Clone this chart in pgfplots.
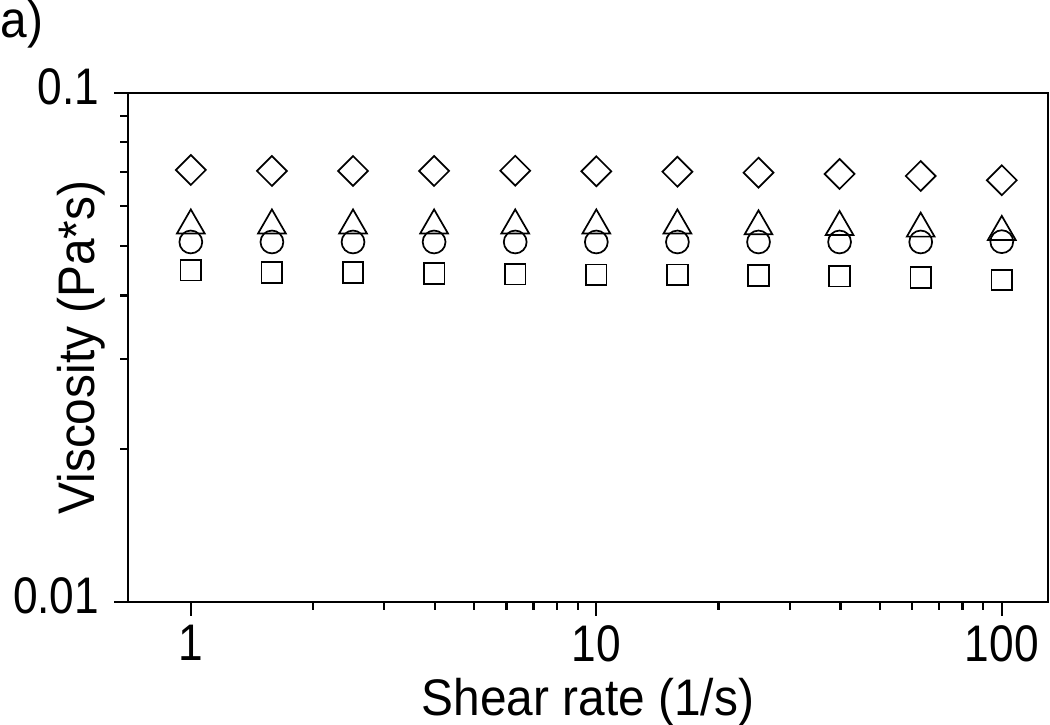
\documentclass[border=0pt]{standalone}
\usepackage{pgfplots}
\pgfplotsset{compat=1.18}
\usepackage{fontspec}
\setmainfont{Liberation Sans}[FakeStretch=0.93]
\newfontfamily\tickfont{Liberation Sans}[FakeStretch=0.86]

\begin{document}
\begin{tikzpicture}
% canvas 1050x725 px, 1px = 0.35pt, origin at lower left corner of the axis box
\useasboundingbox (-44.8pt,-43.05pt) rectangle (322.7pt,210.7pt);
\begin{axis}[%
at={(0,0)}, anchor=south west,
width=322pt, height=178.15pt,
scale only axis,
xmode=log, ymode=log,
xmin=0.7, xmax=130,
ymin=0.01, ymax=0.1,
axis line style={line width=1pt},
tick align=outside, tick pos=left,
major tick length=4.9pt, minor tick length=2.8pt,
tick style={black, line width=0.8pt},
xtick={1,10,100}, xticklabels={1,10,100},
ytick={0.01,0.1}, yticklabels={0.01,0.1},
tick label style={font=\fontsize{18}{22}\tickfont, inner sep=0pt},
xticklabel style={anchor=north, yshift=-3pt},
yticklabel style={anchor=east, xshift=-5pt, yshift=2pt},
xlabel={Shear rate (1/s)},
xlabel style={at={(axis description cs:0.5,-0.222)}, anchor=base, inner sep=0pt, font=\fontsize{18}{22}\selectfont},
ylabel={Viscosity (Pa*s)},
ylabel style={at={(axis description cs:-0.0359,0.5)}, anchor=base, inner sep=0pt, font=\fontsize{18}{22}\selectfont},
clip=false,
]

% diamonds
\addplot[only marks, mark=square, mark size=3.7pt, mark options={rotate=45, line width=0.6pt, black}]
table[row sep=crcr] {%
x	y\\
1	0.07060\\
1.585	0.07028\\
2.512	0.07028\\
3.981	0.07028\\
6.310	0.07037\\
10	0.07018\\
15.85	0.07005\\
25.12	0.06974\\
39.81	0.06933\\
63.10	0.06871\\
100	0.06739\\
};

% triangles
\addplot[only marks, mark=triangle, mark size=5.6pt, mark options={line width=0.6pt, black}]
table[row sep=crcr] {%
x	y\\
1	0.05493\\
1.585	0.05493\\
2.512	0.05493\\
3.981	0.05493\\
6.310	0.05493\\
10	0.05493\\
15.85	0.05493\\
25.12	0.05471\\
39.81	0.05454\\
63.10	0.05415\\
100	0.05335\\
};

% circles
\addplot[only marks, mark=o, mark size=4.0pt, mark options={line width=0.6pt, black}]
table[row sep=crcr] {%
x	y\\
1	0.05097\\
1.585	0.05097\\
2.512	0.05097\\
3.981	0.05097\\
6.310	0.05097\\
10	0.05097\\
15.85	0.05097\\
25.12	0.05097\\
39.81	0.05097\\
63.10	0.05097\\
100	0.05104\\
};

% squares
\addplot[only marks, mark=square, mark size=3.6pt, mark options={line width=0.6pt, black}]
table[row sep=crcr] {%
x	y\\
1	0.04485\\
1.585	0.04439\\
2.512	0.04439\\
3.981	0.04419\\
6.310	0.04405\\
10	0.04393\\
15.85	0.04393\\
25.12	0.04379\\
39.81	0.04365\\
63.10	0.04340\\
100	0.04291\\
};

\end{axis}
\node[anchor=base west, inner sep=0pt, font=\fontsize{18}{22}\selectfont] at (-44.8pt,197.4pt) {a)};
\end{tikzpicture}
\end{document}
